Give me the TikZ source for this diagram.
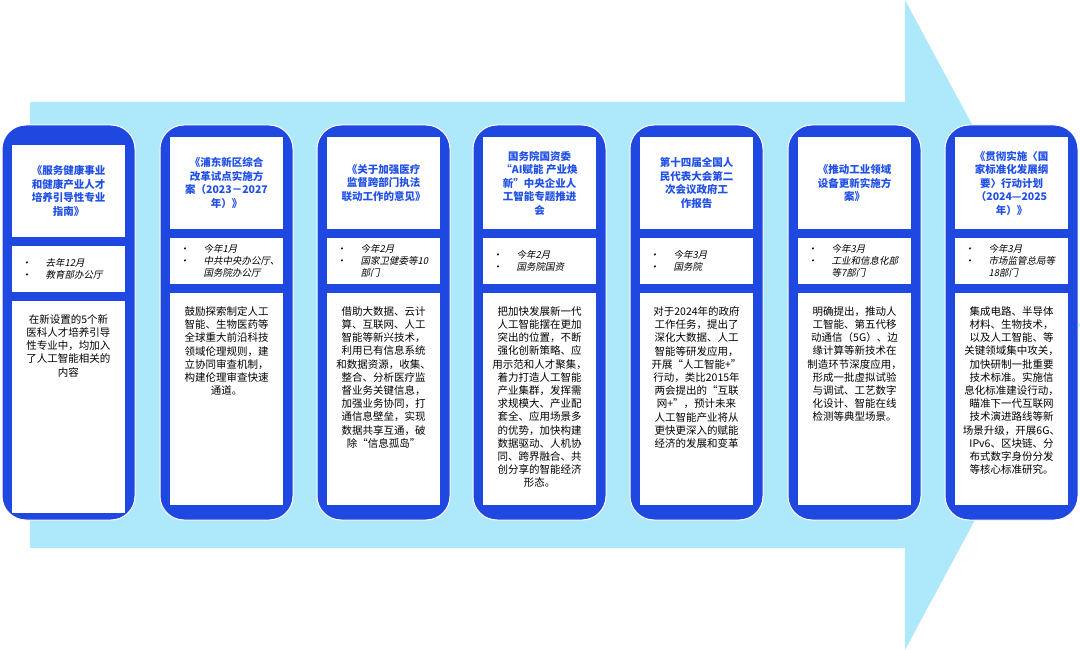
\documentclass[tikz,border=0pt]{standalone}
\usepackage{fontspec}
\setmainfont{Noto Sans CJK SC}
\newfontfamily\cjkit{Noto Sans CJK SC}[FakeSlant=0.2]
\definecolor{arrowblue}{HTML}{AEE8FB}
\definecolor{colblue}{HTML}{1F48E0}
\definecolor{titleblue}{HTML}{2050E6}
\tikzset{
 colbox/.style={fill=colblue,draw=white,line width=1pt,rounded corners=24pt},
 inbox/.style={fill=white,draw=none},
 ttl/.style={font=\fontsize{10.5}{13.5}\selectfont\bfseries,text=titleblue,align=center},
 bul/.style={font=\fontsize{9.5}{12}\cjkit,align=left,anchor=west},
 bod/.style={font=\fontsize{10.5}{13.2}\selectfont,align=center,anchor=north}
}
\newcommand\bl[1]{\makebox[24pt][l]{•}#1}
\newcommand\bc[1]{\makebox[24pt][l]{}#1}
% #1 name, #2 x, #3 inner dy, #4 title, #5 bullets, #6 body
\newcommand\mycolumn[6]{
 \draw[colbox] (#2,125) rectangle ++(133,395);
 \fill[inbox] (#2+10,137+#3) rectangle ++(113,92);
 \fill[inbox] (#2+10,238+#3) rectangle ++(113,46);
 \fill[inbox] (#2+10,293+#3) rectangle ++(113,212);
 \node[ttl] (#1t) at (#2+66.5,183+#3) {#4};
 \node[bul] (#1b) at (#2+16,261+#3) {#5};
 \node[bod] (#1c) at (#2+66.5,303+#3) {#6};
}
\begin{document}
\begin{tikzpicture}[x=1pt,y=-1pt]
\useasboundingbox (0,0) rectangle (1080,650);
\fill[arrowblue] (30,102) -- (905,102) -- (905,0) -- (1080,325) -- (905,650) -- (905,548) -- (30,548) -- cycle;
\mycolumn{a}{2}{8}{《服务健康事业\\和健康产业人才\\培养引导性专业\\指南》}{\bl{去年12月}\\\bl{教育部办公厅}}{在新设置的5个新\\医科人才培养引导\\性专业中，均加入\\了人工智能相关的\\内容}
\mycolumn{b}{160}{0}{《浦东新区综合\\改革试点实施方\\案（2023－2027\\年）》}{\bl{今年1月}\\\bl{中共中央办公厅、}\\\bc{国务院办公厅}}{鼓励探索制定人工\\智能、生物医药等\\全球重大前沿科技\\领域伦理规则，建\\立协同审查机制，\\构建伦理审查快速\\通道。}
\mycolumn{c}{317}{0}{《关于加强医疗\\监督跨部门执法\\联动工作的意见》}{\bl{今年2月}\\\bl{国家卫健委等10}\\\bc{部门}}{借助大数据、云计\\算、互联网、人工\\智能等新兴技术，\\利用已有信息系统\\和数据资源，收集、\\整合、分析医疗监\\督业务关键信息，\\加强业务协同，打\\通信息壁垒，实现\\数据共享互通，破\\除“信息孤岛”}
\mycolumn{d}{473}{0}{国务院国资委\\“AI赋能 产业焕\\新”中央企业人\\工智能专题推进\\会}{\bl{今年2月}\\\bl{国务院国资}}{把加快发展新一代\\人工智能摆在更加\\突出的位置，不断\\强化创新策略、应\\用示范和人才聚集，\\着力打造人工智能\\产业集群，发挥需\\求规模大、产业配\\套全、应用场景多\\的优势，加快构建\\数据驱动、人机协\\同、跨界融合、共\\创分享的智能经济\\形态。}
\mycolumn{e}{630}{0}{第十四届全国人\\民代表大会第二\\次会议政府工\\作报告}{\bl{今年3月}\\\bl{国务院}}{对于2024年的政府\\工作任务，提出了\\深化大数据、人工\\智能等研发应用，\\开展“人工智能+”\\行动，类比2015年\\两会提出的“互联\\网+”，预计未来\\人工智能产业将从\\更快更深入的赋能\\经济的发展和变革}
\mycolumn{f}{788}{0}{《推动工业领域\\设备更新实施方\\案》}{\bl{今年3月}\\\bl{工业和信息化部}\\\bc{等7部门}}{明确提出，推动人\\工智能、第五代移\\动通信（5G）、边\\缘计算等新技术在\\制造环节深度应用，\\形成一批虚拟试验\\与调试、工艺数字\\化设计、智能在线\\检测等典型场景。}
\mycolumn{g}{945}{0}{《贯彻实施〈国\\家标准化发展纲\\要〉行动计划\\（2024—2025\\年）》}{\bl{今年3月}\\\bl{市场监管总局等}\\\bc{18部门}}{集成电路、半导体\\材料、生物技术，\\以及人工智能、等\\关键领域集中攻关，\\加快研制一批重要\\技术标准。实施信\\息化标准建设行动，\\瞄准下一代互联网\\技术演进路线等新\\场景升级，开展6G、\\IPv6、区块链、分\\布式数字身份分发\\等核心标准研究。}
\end{tikzpicture}
\end{document}
